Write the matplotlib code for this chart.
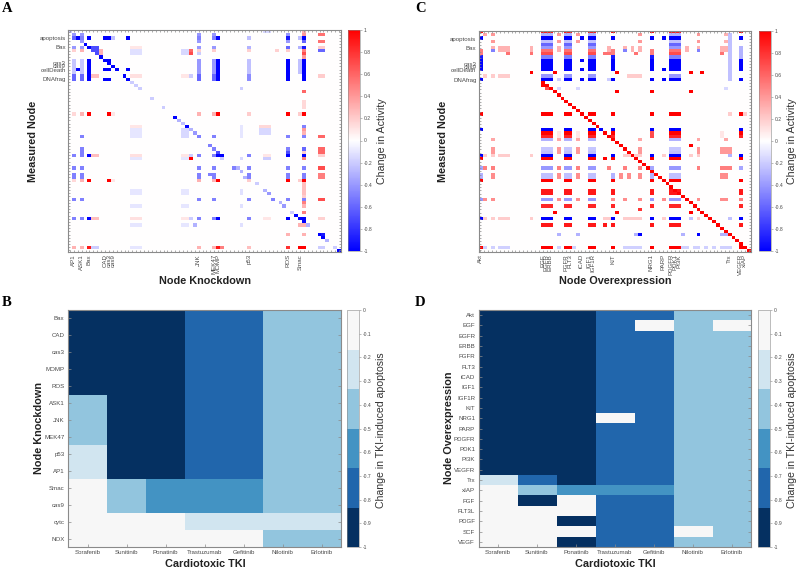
import numpy as np
import matplotlib
matplotlib.use("Agg")
import matplotlib.pyplot as plt
from matplotlib.colors import LinearSegmentedColormap, ListedColormap

plt.rcParams['font.family'] = ['Liberation Sans', 'DejaVu Sans']

# heatmap size for the two top panels
n_nodes = 70

# labels
ko_x_labels = ['AP1', 'ASK1', 'Bax', 'CAD', 'cas3', 'cas9', 'JNK', 'MEK47', 'MOMP', 'p53', 'ROS', 'Smac']
ko_x_index = [1, 3, 5, 9, 10, 11, 33, 37, 38, 46, 56, 59]
oe_x_labels = ['Akt', 'EGF', 'EGFR', 'ERBB', 'FGFR', 'FLT3', 'iCAD', 'IGF1', 'IGF1R', 'KIT', 'NRG1',
               'PARP', 'PDGFR', 'PDK1', 'PI3K', 'Trx', 'VEGFR', 'xIAP']
oe_x_index = [0, 16, 17, 18, 22, 23, 26, 28, 29, 34, 44, 47, 49, 50, 51, 64, 67, 68]
measured_labels = ['apoptosis', 'Bax', 'cas3', 'cas9', 'cellDeath', 'DNAfrag']
measured_index = [2, 5, 10, 11, 12, 15]

# panel A, knockdown: (rows, cols, change)
ko_main_cols = [1, 3, 33, 37, 46, 56, 60]
ko_diag_rows = [4, 5, 6, 7, 8, 9, 10, 11, 12, 14, 15, 16, 17, 18, 21, 24, 27, 28, 29, 30, 31, 32,
                36, 37, 38, 39, 43, 44, 48, 50, 51, 54, 55, 57, 58, 59, 60, 61, 64, 65, 66, 68, 69]
ko_diag_vals = [-1, -1, -.7, -.7, -1, -1, -1, -1, -1, -1, -1, -.2, -.2, -.2, -.2, -.2, -1, -.3, -.25,
                -1, -.3, -.4, -.5, -.5, -.7, -1, -.3, -.3, -.2, -.3, -.4, -.3, -.4, -.2, -1, -1, -1,
                -.3, -1, -1, -.3, -.2, -1]
ko_strong = [
    ([2], [1], -.6), ([2], [2, 5, 9, 10, 15, 38, 60], -1), ([2], [3, 33, 37], -.5), ([2], [11, 46, 59], -.25),
    ([2], [56], -.9), ([1], [1, 3, 33, 37, 56], -.4), ([1], [60], .4), ([1, 3], [64, 65], .55),
    ([3], [3, 33, 56], -.4), ([3], [60], -.6), ([5], [1, 3, 33, 37], -.4), ([5], [46, 59], -.3),
    ([5], [56], -.6), ([5], [60], -.9), ([5], [64, 65], .2), ([6], [3], .3), ([6], [1, 33, 46, 53], .18),
    ([6], [31], .6), ([6], [37], .2), ([6], [56], .2), ([6], [60], .5), ([6], [64, 65], -.6),
    ([7], [31], .7), ([7], [60], .7), ([7], [33], -.2), ([8], [60], .4),
    ([9, 10, 11, 12, 13], [1, 3], -.22), ([9, 10, 11, 12, 13], [33, 37], -.4),
    ([9, 10, 11, 12, 13], [46, 59], -.25), ([9, 10, 11, 12, 13], [5, 38, 56, 60], -1),
    ([9, 10], [10], -1), ([12], [2, 9, 10, 15], -1), ([14, 15], [1, 3, 33, 37], -.6), ([14, 15], [46], -.45),
    ([14, 15], [5, 38, 56, 60], -1), ([14], [6, 7], .25), ([14], [64, 65], .2), ([15], [9, 10], -1),
    ([18], [44], -.2), ([19], [60], .6), ([22, 23, 24], [60], .15),
    ([33], [3, 33, 37, 56, 60], -.5), ([33], [64, 65], .6),
    ([30], [60], -.5), ([31], [60], .4), ([32], [60], .3),
    ([37], [3, 56], -.5), ([37], [60], -.6), ([37, 38], [64, 65], .6), ([38], [3], -.5),
    ([38], [56], -.7), ([38], [60], .2),
    ([43, 45, 46, 53], [1, 3, 33, 37, 46, 56, 60], -.5), ([43, 53], [64, 65], .7), ([45, 46], [64, 65], .5),
    ([45], [36], -.5), ([46], [45], -.3), ([53], [52], -.5), ([43], [42], -.5),
    ([40], [31], 1), ([40], [39], -.2), ([40], [60], .5), ([40], [44], -.15), ([40], [50, 51], -.2),
    ([48, 49, 50, 51], [60], .25), ([52], [60], .2), ([54], [60], .5), ([55], [60], .3), ([57], [60], .5),
    ([61], [60], .3), ([61], [59], .3), ([64], [56, 60], .3),
]
ko_red_rows = [26, 47]
ko_red_full = [5, 10, 38, 56, 60]
ko_red_soft = [1, 3, 33, 37, 46, 59]
ko_red_soft_vals = [.15, .3, .3, .3, .2, .2]
ko_main_rows = [39, 59]
ko_main_dark = [5, 38, 56, 60]
ko_bands = [
    ([5, 6], [6, 7], -.7), ([6, 7], [8], .3), ([6, 7], [16, 17, 18], -.12), ([5], [16, 17, 18], .1),
    ([6, 7], [29, 30], -.15), ([14, 39, 59], [16, 17, 18], .12), ([14, 39, 59], [31], -.2),
    ([14, 39, 59], [29, 30], .1), ([39, 59], [6, 7], .25), ([39, 59], [64, 65], .18), ([39, 59], [50, 51], .1),
    ([30], [16, 17, 18], .1), ([31, 32, 33], [16, 17, 18], -.1), ([31, 32, 33], [29, 30], -.15),
    ([30, 31, 32, 33], [44], -.1), ([30], [49, 50, 51], .15), ([31, 32], [49, 50, 51], -.15),
    ([40, 50, 51, 55, 61], [16, 17, 18], -.1), ([40, 50, 51, 55, 61], [29, 30], -.1),
    ([50, 51, 55, 61], [44], -.12), ([61], [32], -.3), ([0], [50, 51], -.15), ([0], [60], .3), ([0], [0], -.2),
    ([64], [65], -.9),
]
ko_bottom_cols = [1, 3, 5, 6, 7, 16, 17, 18, 33, 37, 38, 39, 46, 56, 59, 60, 64, 65, 68]
ko_bottom_vals = [.3, .3, .9, -.2, -.2, -.1, -.1, -.1, .3, .3, .9, .5, .25, .8, 1, 1, -.2, -.2, -.2]

# panel C, overexpression
oe_group = [16, 17, 18, 22, 23, 28, 29, 49, 50, 51]
oe_single = [34, 44]
oe_all = oe_group + oe_single + [0, 67]
oe_top_rows = [0, 1, 2, 3, 4, 5, 6, 7, 8, 9, 10, 11, 12, 13, 14, 15]
oe_top_vals = [.9, -.3, -1, -.25, -.6, -.4, .55, .7, -.5, -1, -1, -1, -1, 0, -.4, -1]
oe_side = [
    ([0], [34, 44, 67, 0], .95), ([1, 3], [3, 20, 25, 41, 56], .4), ([1, 3], [63, 64], .3), ([1], [1], .35),
    ([2], [26, 47], -1), ([9, 12], [26], -1), ([12], [47], -1), ([15], [26, 47], -1),
    ([8], [0, 34, 44, 67], -.9), ([6, 7], [0, 34, 44], .5), ([5, 6, 7, 8], [67], -.3),
    ([5, 6], [3, 5, 6, 7, 13, 20, 33, 37, 39, 41, 53, 56, 62, 63], .3), ([6], [3, 37, 56], -.5),
    ([7], [7, 13, 32, 33, 40, 62], .55),
    ([13], [13, 19, 35, 54, 57], 1), ([14], [1, 3, 5, 6, 7], .2), ([14], [38, 39, 40, 41], .2),
    ([15], [20, 33], -.2), ([1, 2, 3, 4, 5, 6, 7, 8, 9, 10, 11, 12, 13, 14, 15], [64], -.25),
    ([17], [16], 1), ([18], [17], .7), ([18], [20, 25], -.15), ([19], [35, 44, 54], 1),
    ([18], [63], -.15), ([26], [64, 68], .2), ([32, 33], [20, 25, 62], .1), ([32, 33], [44], .7),
    ([34], [3, 20, 25, 41, 56, 63], .35),
    ([36], [54], 1), ([37, 38], [3, 20, 25, 41, 56, 62, 63, 64], .4),
    ([39], [1, 3, 5, 6, 7, 13, 37, 38, 39, 40, 41, 47, 54, 56], .2), ([39], [64], -.3), ([40], [32], 1),
    ([43], [1, 3, 20, 25, 33, 37, 41, 56, 62, 63, 64], .5), ([43], [0, 44, 67], -.35),
    ([45, 46], [3, 20, 25, 36, 38, 41, 62, 63], .45), ([45, 46], [0, 34, 44], -.3),
    ([53], [1, 3, 20, 25, 34, 37, 41, 47, 56, 62, 63], .45), ([53], [0, 44], -.4), ([53], [67], .5),
    ([56], [41], .8), ([57], [19, 35, 54], 1),
    ([59], [1, 3, 5, 6, 7, 13, 32, 33, 37, 38, 39, 40, 41, 47, 56], .2), ([59], [54, 64], -.25),
    ([61], [32], .9), ([64], [20, 25, 40, 52, 62, 63, 64], -.3), ([64], [41, 56], -1),
    ([68], [1, 3, 5, 6, 7, 20, 24, 37, 38, 39, 40, 41, 52, 53, 55, 56, 58, 60, 62, 63, 64], -.18),
]
oe_full_rows = [26, 40, 47, 68]
oe_neg_rows = [31, 39, 59]
oe_band_rows = [34, 37, 38, 43, 45, 46, 53]
oe_band_vals = [-.3, -.22, -.25, -.4, -.25, -.25, -.4]
oe_pos_rows = [32, 33, 50, 51, 55, 61]
oe_pos_vals = [1, .85, .9, .9, .85, .9]
oe_diag_rows = [16, 17, 18, 19, 20, 21, 22, 23, 24, 25, 26, 27, 28, 29, 30, 32, 33, 34, 35, 36, 37, 38, 39, 40,
                41, 42, 43, 44, 45, 46, 47, 48, 49, 50, 51, 52, 53, 54, 55, 56, 57, 58, 59, 60, 61, 62, 63, 64,
                65, 66, 67, 68, 69]
oe_blue_diag = [31]

# panels B and D, discrete levels
tki_names = ['Sorafenib', 'Sunitinib', 'Ponatinib', 'Trastuzumab', 'Gefitinib', 'Nilotinib', 'Erlotinib']
lvl_w, lvl_p, lvl_4, lvl_3, lvl_2, lvl_d = -.08, -.25, -.42, -.58, -.75, -.92
tki_ko_labels = ['Bax', 'CAD', 'cas3', 'MOMP', 'ROS', 'ASK1', 'JNK', 'MEK47', 'p53', 'AP1', 'Smac', 'cas9', 'cytc', 'NOX']
tki_ko_values = [
    [lvl_d, lvl_d, lvl_d, lvl_2, lvl_2, lvl_4, lvl_4],
    [lvl_d, lvl_d, lvl_d, lvl_2, lvl_2, lvl_4, lvl_4],
    [lvl_d, lvl_d, lvl_d, lvl_2, lvl_2, lvl_4, lvl_4],
    [lvl_d, lvl_d, lvl_d, lvl_2, lvl_2, lvl_4, lvl_4],
    [lvl_d, lvl_d, lvl_d, lvl_2, lvl_2, lvl_4, lvl_4],
    [lvl_4, lvl_d, lvl_d, lvl_2, lvl_2, lvl_4, lvl_4],
    [lvl_4, lvl_d, lvl_d, lvl_2, lvl_2, lvl_4, lvl_4],
    [lvl_4, lvl_d, lvl_d, lvl_2, lvl_2, lvl_4, lvl_4],
    [lvl_p, lvl_d, lvl_d, lvl_2, lvl_2, lvl_4, lvl_4],
    [lvl_p, lvl_d, lvl_d, lvl_2, lvl_2, lvl_4, lvl_4],
    [lvl_w, lvl_4, lvl_3, lvl_3, lvl_3, lvl_4, lvl_4],
    [lvl_w, lvl_4, lvl_3, lvl_3, lvl_3, lvl_4, lvl_4],
    [lvl_w, lvl_w, lvl_w, lvl_p, lvl_p, lvl_p, lvl_p],
    [lvl_w, lvl_w, lvl_w, lvl_w, lvl_w, lvl_4, lvl_4],
]
tki_oe_labels = ['Akt', 'EGF', 'EGFR', 'ERBB', 'FGFR', 'FLT3', 'iCAD', 'IGF1', 'IGF1R', 'KIT', 'NRG1', 'PARP', 'PDGFR',
                 'PDK1', 'PI3K', 'VEGFR', 'Trx', 'xIAP', 'FGF', 'FLT3L', 'PDGF', 'SCF', 'VEGF']
tki_oe_base = [lvl_d, lvl_d, lvl_d, lvl_2, lvl_2, lvl_4, lvl_4]
tki_oe_egf = [lvl_d, lvl_d, lvl_d, lvl_2, lvl_w, lvl_4, lvl_w]
tki_oe_nrg1 = [lvl_d, lvl_d, lvl_d, lvl_w, lvl_2, lvl_4, lvl_4]
tki_oe_tail = [
    [lvl_p, lvl_2, lvl_d, lvl_2, lvl_2, lvl_4, lvl_4],
    [lvl_w, lvl_4, lvl_3, lvl_3, lvl_3, lvl_4, lvl_4],
    [lvl_w, lvl_d, lvl_w, lvl_2, lvl_2, lvl_4, lvl_4],
    [lvl_w, lvl_w, lvl_w, lvl_2, lvl_2, lvl_4, lvl_4],
    [lvl_w, lvl_w, lvl_d, lvl_2, lvl_2, lvl_4, lvl_4],
    [lvl_w, lvl_w, lvl_w, lvl_2, lvl_2, lvl_w, lvl_4],
    [lvl_w, lvl_w, lvl_d, lvl_2, lvl_2, lvl_4, lvl_4],
]
tki_oe_values = [tki_oe_base, tki_oe_egf] + [tki_oe_base] * 8 + [tki_oe_nrg1] + [tki_oe_base] * 5 + tki_oe_tail


def fill(mat, entries):
    for rows, cols, val in entries:
        for r in rows:
            for c in cols:
                mat[r, c] = val


# build panel A
ko_mat = np.zeros((n_nodes, n_nodes))
fill(ko_mat, ko_bands)
for r in ko_red_rows:
    fill(ko_mat, [([r], ko_red_full, 1), ([r], [11], .1)])
    ko_mat[r, ko_red_soft] = ko_red_soft_vals
for r in ko_main_rows:
    fill(ko_mat, [([r], ko_main_cols, -.5), ([r], ko_main_dark, -1)])
ko_mat[68, ko_bottom_cols] = ko_bottom_vals
fill(ko_mat, ko_strong)
ko_mat[ko_diag_rows, ko_diag_rows] = ko_diag_vals

# build panel C
oe_mat = np.zeros((n_nodes, n_nodes))
for r, v in zip(oe_top_rows, oe_top_vals):
    fill(oe_mat, [([r], oe_group, v)])
    if abs(v) > .8:
        fill(oe_mat, [([r], oe_single, v), ([r], [0, 67], v)])
for r in oe_full_rows:
    fill(oe_mat, [([r], oe_all, 1)])
for r in oe_neg_rows:
    fill(oe_mat, [([r], oe_all, -1)])
for r, v in zip(oe_band_rows, oe_band_vals):
    fill(oe_mat, [([r], oe_group, v)])
for r, v in zip(oe_pos_rows, oe_pos_vals):
    fill(oe_mat, [([r], oe_group, v), ([r], oe_single, v), ([r], [67], v)])
fill(oe_mat, oe_side)
oe_mat[oe_diag_rows, oe_diag_rows] = 1
oe_mat[oe_blue_diag, oe_blue_diag] = -1

bwr = LinearSegmentedColormap.from_list('bwr2', ['#0000ff', '#ffffff', '#ff0000'])
steps = ListedColormap(['#053061', '#2166ac', '#4393c3', '#92c5de', '#d1e5f0', '#f7f7f7'])
grey = '#8a8a8a'
txt = '#4a4a4a'

fig = plt.figure(figsize=(8, 5.74), dpi=100)
W, H = 800, 574


def box(x0, y0, x1, y1):
    return [x0 / W, 1 - y1 / H, (x1 - x0) / W, (y1 - y0) / H]


def style(ax):
    for s in ax.spines.values():
        s.set_color(grey)
        s.set_linewidth(.8)


def top_panel(pos, cpos, mat, x_lab, x_idx, xlabel, lab_x, clab_x, xlab_x, letter, letter_x):
    ax = fig.add_axes(box(*pos))
    im = ax.imshow(mat, cmap=bwr, vmin=-1, vmax=1, aspect='auto', interpolation='nearest')
    style(ax)
    ax.set_xticks(range(n_nodes))
    ax.set_yticks(range(n_nodes))
    ax.set_xticklabels([x_lab[x_idx.index(i)] if i in x_idx else '' for i in range(n_nodes)],
                       rotation=90, fontsize=4.4, color=txt)
    ax.set_yticklabels([measured_labels[measured_index.index(i)] if i in measured_index else '' for i in range(n_nodes)],
                       fontsize=4.4, color=txt)
    ax.tick_params(length=1.6, width=.5, color=grey, direction='in', top=True, right=True, pad=1.5)
    cax = fig.add_axes(box(*cpos))
    cb = fig.colorbar(im, cax=cax, ticks=np.arange(-1, 1.01, .2))
    cb.ax.set_yticklabels(['-1', '-0.8', '-0.6', '-0.4', '-0.2', '0', '0.2', '0.4', '0.6', '0.8', '1'], fontsize=3.6, color=txt)
    cb.ax.tick_params(length=1.2, width=.4, color=grey, pad=1.5)
    cb.outline.set_linewidth(.4)
    cb.outline.set_edgecolor(grey)
    fig.text(lab_x / W, 1 - 141 / H, 'Measured Node', rotation=90, fontsize=7.8, fontweight='bold', ha='center', va='center', color='#222222')
    fig.text(clab_x / W, 1 - 141 / H, 'Change in Activity', rotation=90, fontsize=7.7, ha='center', va='center', color='#333333')
    fig.text(xlab_x / W, 1 - 281 / H, xlabel, fontsize=7.8, fontweight='bold', ha='center', va='center', color='#222222')
    fig.text(letter_x / W, 1 - 8 / H, letter, fontsize=10.5, fontweight='bold', family='Liberation Serif', ha='left', va='center')


def tki_panel(pos, cpos, values, y_lab, ylabel, lab_x, clab_x, xlab_x, letter, letter_x):
    ax = fig.add_axes(box(*pos))
    im = ax.imshow(np.array(values), cmap=steps, vmin=-1, vmax=0, aspect='auto', interpolation='nearest')
    style(ax)
    ax.set_xticks(range(len(tki_names)))
    ax.set_xticklabels(tki_names, fontsize=4.4, color=txt)
    ax.set_yticks(range(len(y_lab)))
    ax.set_yticklabels(y_lab, fontsize=4.4, color=txt)
    ax.tick_params(length=2, width=.5, color=grey, direction='in', top=False, right=True, pad=2.5)
    cax = fig.add_axes(box(*cpos))
    cb = fig.colorbar(im, cax=cax, ticks=np.arange(-1, .01, .1))
    cb.ax.set_yticklabels(['-1', '-0.9', '-0.8', '-0.7', '-0.6', '-0.5', '-0.4', '-0.3', '-0.2', '-0.1', '0'], fontsize=3.6, color=txt)
    cb.ax.tick_params(length=1.2, width=.4, color=grey, pad=1.5)
    cb.outline.set_linewidth(.4)
    cb.outline.set_edgecolor(grey)
    fig.text(lab_x / W, 1 - 428 / H, ylabel, rotation=90, fontsize=7.8, fontweight='bold', ha='center', va='center', color='#222222')
    fig.text(clab_x / W, 1 - 430 / H, 'Change in TKI-induced apoptosis', rotation=90, fontsize=7.6, ha='center', va='center', color='#333333')
    fig.text(xlab_x / W, 1 - 564 / H, 'Cardiotoxic TKI', fontsize=7.8, fontweight='bold', ha='center', va='center', color='#222222')
    fig.text(letter_x / W, 1 - 302 / H, letter, fontsize=10.5, fontweight='bold', family='Liberation Serif', ha='left', va='center')


top_panel((68, 30, 341, 252), (348, 30, 360, 251), ko_mat, ko_x_labels, ko_x_index, 'Node Knockdown', 33, 382, 205, 'A', 2)
top_panel((478.5, 31, 750.5, 252), (759, 31, 771, 251), oe_mat, oe_x_labels, oe_x_index, 'Node Overexpression', 443, 792, 615, 'C', 415)
tki_panel((68, 310, 341, 547), (347, 310, 359, 547), tki_ko_values, tki_ko_labels, 'Node Knockdown', 39, 381, 205, 'B', 2)
tki_panel((478.5, 310, 751, 547), (758, 310, 770, 547), tki_oe_values, tki_oe_labels, 'Node Overexpression', 449, 792, 615, 'D', 415)

fig.savefig('out.png', dpi=100)
